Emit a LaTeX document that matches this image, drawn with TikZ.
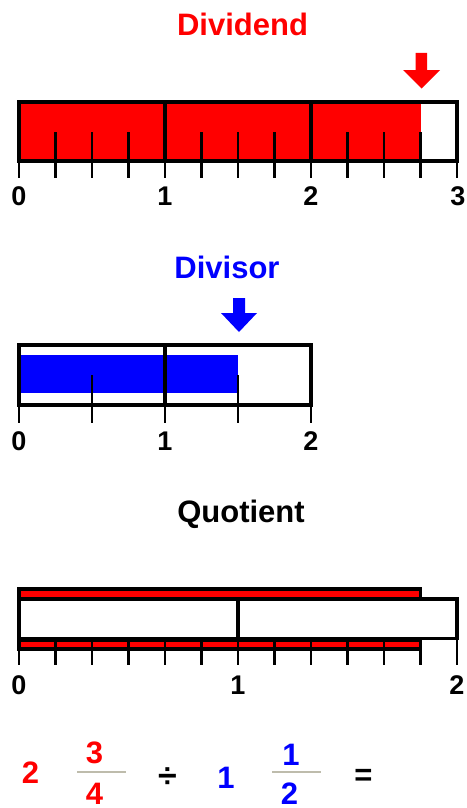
\documentclass[tikz,border=0pt]{standalone}
\usepackage{fontspec}
\setmainfont{Liberation Sans}
\definecolor{dred}{RGB}{255,0,0}
\definecolor{dblue}{RGB}{0,0,255}
\definecolor{fracgray}{RGB}{190,188,172}
\tikzset{
  border/.style={line width=4pt, line join=miter},
  qborder/.style={line width=3.5pt, line join=miter},
  strip/.style={line width=3.5pt, fill=dred, line join=miter},
  divider/.style={line width=4pt},
  tick/.style={line width=2.4pt},
  title/.style={font=\bfseries\fontsize{31}{31}\selectfont, anchor=base, inner sep=0pt},
  numlab/.style={font=\bfseries\fontsize{27}{27}\selectfont, anchor=base, inner sep=0pt},
  eqnum/.style={font=\bfseries\fontsize{31}{31}\selectfont, anchor=base, inner sep=0pt},
  fracline/.style={draw=fracgray, line width=2pt},
}
\begin{document}
\begin{tikzpicture}[x=1pt,y=-1pt]
\fill[white] (0,0) rectangle (466,808);
\useasboundingbox (0,0) rectangle (466,808);

% ---------- Dividend ----------
\node[title, text=dred] (tdividend) at (242.5,36) {Dividend};
\fill[dred] (415.5,53) -- (427,53) -- (427,70) -- (440,70) -- (421.5,88.5) -- (403,70) -- (415.5,70) -- cycle;
\fill[dred] (19,102) rectangle (420.5,161);
\foreach \i in {1,2,3,5,6,7,9,10,11} \draw[tick] ({19+36.5*\i},132) -- ({19+36.5*\i},161);
\foreach \i in {0,...,12} \draw[tick] ({19+36.5*\i},161) -- ({19+36.5*\i},178);
\draw[divider] (165,102) -- (165,161);
\draw[divider] (311,102) -- (311,161);
\draw[border] (19,102) rectangle (457,161);
\node[numlab] (d0) at (19,205) {0};
\node[numlab] (d1) at (165,205) {1};
\node[numlab] (d2) at (311,205) {2};
\node[numlab] (d3) at (458,205) {3};

% ---------- Divisor ----------
\node[title, text=dblue] (tdivisor) at (227,278) {Divisor};
\fill[dblue] (233,298) -- (245,298) -- (245,313) -- (257,313) -- (239,332) -- (221,313) -- (233,313) -- cycle;
\fill[dblue] (19,355) rectangle (238,393);
\foreach \i in {1,3} \draw[tick] ({19+73*\i},375) -- ({19+73*\i},405);
\foreach \i in {0,...,4} \draw[tick] ({19+73*\i},405) -- ({19+73*\i},423);
\draw[divider] (165,345) -- (165,405);
\draw[border] (19,345) rectangle (311,405);
\node[numlab] (v0) at (19,450) {0};
\node[numlab] (v1) at (165,450) {1};
\node[numlab] (v2) at (311,450) {2};

% ---------- Quotient ----------
\node[title] (tquotient) at (241,522) {Quotient};
\draw[qborder] (19,599) rectangle (457,638.5);
\draw[divider] (238,599) -- (238,638.5);
\draw[strip] (19,589) rectangle (420.5,598.5);
\draw[strip] (19,640) rectangle (420.5,649);
\foreach \i in {1,...,10} \draw[tick] ({19+36.5*\i},640) -- ({19+36.5*\i},649);
\foreach \i in {0,...,11} \draw[tick] ({19+36.5*\i},649) -- ({19+36.5*\i},665);
\draw[tick] (457,638.5) -- (457,665);
\node[numlab] (q0) at (19,694) {0};
\node[numlab] (q1) at (238,694) {1};
\node[numlab] (q2) at (457,694) {2};

% ---------- Equation ----------
\node[eqnum, text=dred] (ew) at (30.5,783) {2};
\node[eqnum, text=dred] (en) at (94.5,763) {3};
\node[eqnum, text=dred] (ed) at (94.5,804) {4};
\coordinate (fl1a) at (77,772);
\coordinate (fl1b) at (126,772);
\draw[fracline] (fl1a) -- (fl1b);
\node[font=\bfseries\fontsize{34}{34}\selectfont, inner sep=0pt] (ediv) at (167.5,777.5) {÷};
\node[eqnum, text=dblue] (vw) at (226,788) {1};
\node[eqnum, text=dblue] (vn) at (291,765) {1};
\node[eqnum, text=dblue] (vd) at (289.5,804) {2};
\coordinate (fl2a) at (272,772);
\coordinate (fl2b) at (321,772);
\draw[fracline] (fl2a) -- (fl2b);
\node[font=\bfseries\fontsize{31}{31}\selectfont, inner sep=0pt] (eeq) at (363.5,777.5) {=};
\end{tikzpicture}
\end{document}
